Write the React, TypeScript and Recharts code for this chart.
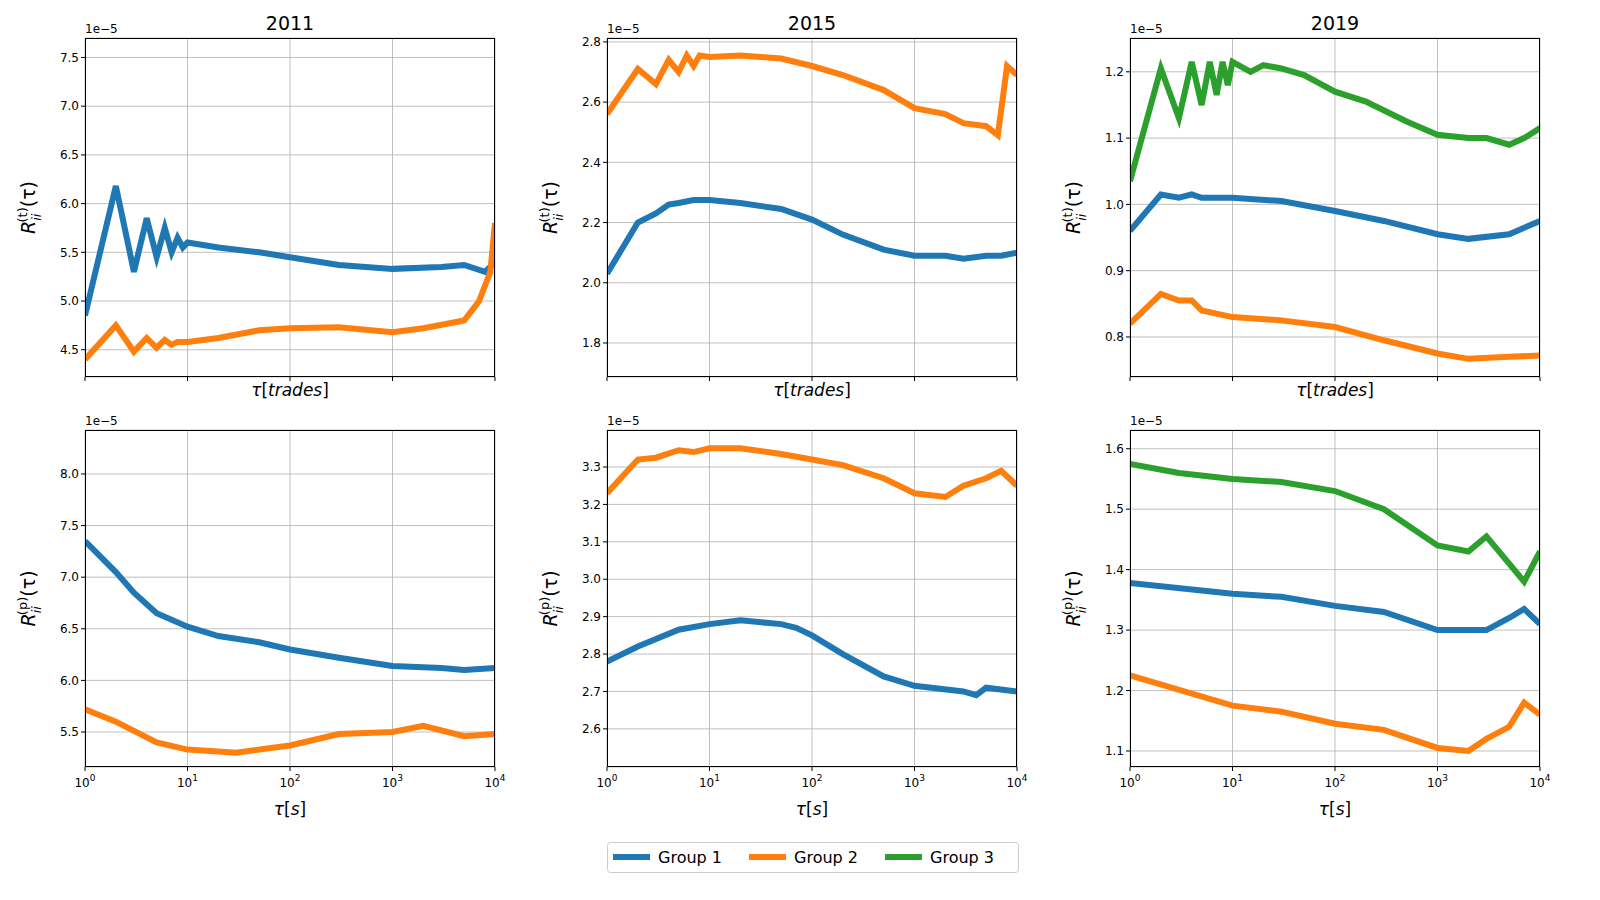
import React from 'react'
import { LineChart, Line, XAxis, YAxis, CartesianGrid } from 'recharts'

const C1 = '#1f77b4'
const C2 = '#ff7f0e'
const C3 = '#2ca02c'

const years = ['2011', '2015', '2019']
const xTicks = [1, 10, 100, 1000, 10000]

// [tau, value * 1e5]
const t2011g1 = [[1, 4.85], [2, 6.18], [3, 5.3], [4, 5.85], [5, 5.45], [6, 5.75], [7, 5.5], [8, 5.65], [9, 5.55], [10, 5.6], [20, 5.55], [50, 5.5], [100, 5.45], [300, 5.37], [1000, 5.33], [3000, 5.35], [5000, 5.37], [8000, 5.3], [10000, 5.4]]
const t2011g2 = [[1, 4.4], [2, 4.75], [3, 4.48], [4, 4.62], [5, 4.52], [6, 4.6], [7, 4.55], [8, 4.58], [10, 4.58], [20, 4.62], [50, 4.7], [100, 4.72], [300, 4.73], [1000, 4.68], [2000, 4.72], [5000, 4.8], [7000, 5.0], [9000, 5.3], [10000, 5.8]]
const t2015g1 = [[1, 2.03], [2, 2.2], [3, 2.23], [4, 2.26], [5, 2.265], [7, 2.275], [10, 2.275], [20, 2.265], [50, 2.245], [100, 2.21], [200, 2.16], [500, 2.11], [1000, 2.09], [2000, 2.09], [3000, 2.08], [5000, 2.09], [7000, 2.09], [10000, 2.1]]
const t2015g2 = [[1, 2.56], [2, 2.71], [3, 2.66], [4, 2.74], [5, 2.7], [6, 2.755], [7, 2.72], [8, 2.755], [10, 2.75], [20, 2.755], [50, 2.745], [100, 2.72], [200, 2.69], [500, 2.64], [1000, 2.58], [2000, 2.56], [3000, 2.53], [5000, 2.52], [6500, 2.49], [8000, 2.72], [10000, 2.69]]
const t2019g1 = [[1, 0.96], [2, 1.015], [3, 1.01], [4, 1.015], [5, 1.01], [10, 1.01], [30, 1.005], [100, 0.99], [300, 0.975], [1000, 0.955], [2000, 0.948], [5000, 0.955], [10000, 0.975]]
const t2019g2 = [[1, 0.82], [2, 0.865], [3, 0.855], [4, 0.855], [5, 0.84], [10, 0.83], [30, 0.825], [100, 0.815], [300, 0.795], [1000, 0.775], [2000, 0.767], [5000, 0.77], [10000, 0.772]]
const t2019g3 = [[1, 1.035], [2, 1.205], [3, 1.13], [4, 1.215], [5, 1.15], [6, 1.215], [7, 1.165], [8, 1.215], [9, 1.18], [10, 1.215], [15, 1.2], [20, 1.21], [30, 1.205], [50, 1.195], [100, 1.17], [200, 1.155], [500, 1.125], [1000, 1.105], [2000, 1.1], [3000, 1.1], [5000, 1.09], [7000, 1.1], [10000, 1.115]]

const p2011g1 = [[1, 7.35], [2, 7.05], [3, 6.85], [5, 6.65], [10, 6.52], [20, 6.43], [50, 6.37], [100, 6.3], [300, 6.22], [1000, 6.14], [3000, 6.12], [5000, 6.1], [10000, 6.12]]
const p2011g2 = [[1, 5.72], [2, 5.6], [5, 5.4], [10, 5.33], [30, 5.3], [100, 5.37], [300, 5.48], [1000, 5.5], [2000, 5.56], [5000, 5.46], [10000, 5.48]]
const p2015g1 = [[1, 2.78], [2, 2.82], [5, 2.865], [10, 2.88], [20, 2.89], [50, 2.88], [70, 2.87], [100, 2.85], [200, 2.8], [500, 2.74], [1000, 2.715], [3000, 2.7], [4000, 2.69], [5000, 2.71], [10000, 2.7]]
const p2015g2 = [[1, 3.23], [2, 3.32], [3, 3.325], [5, 3.345], [7, 3.34], [10, 3.35], [20, 3.35], [50, 3.335], [100, 3.32], [200, 3.305], [500, 3.27], [1000, 3.23], [2000, 3.22], [3000, 3.25], [5000, 3.27], [7000, 3.29], [10000, 3.25]]
const p2019g1 = [[1, 1.378], [10, 1.36], [30, 1.355], [100, 1.34], [300, 1.33], [1000, 1.3], [2000, 1.3], [3000, 1.3], [5000, 1.32], [7000, 1.335], [10000, 1.31]]
const p2019g2 = [[1, 1.225], [10, 1.175], [30, 1.165], [100, 1.145], [300, 1.135], [1000, 1.105], [2000, 1.1], [3000, 1.12], [5000, 1.14], [7000, 1.18], [10000, 1.16]]
const p2019g3 = [[1, 1.575], [3, 1.56], [10, 1.55], [30, 1.545], [100, 1.53], [300, 1.5], [1000, 1.44], [2000, 1.43], [3000, 1.455], [5000, 1.41], [7000, 1.38], [10000, 1.43]]

const toRows = (a: number[][]) => a.map(([x, y]) => ({ x, y }))
const FONT = 'DejaVu Sans, sans-serif'

interface PanelProps {
  left: number; top: number; w: number; h: number
  domain: [number, number]; ticks: number[]; digits: number
  series: { data: number[][]; color: string }[]
  showX: boolean
}

function XTick({ x, y, payload }: any) {
  const e = Math.round(Math.log10(payload.value))
  return (
    <text x={x} y={y + 14} textAnchor="middle" fontSize={12} fontFamily={FONT} fill="#000">
      10<tspan dy={-6} fontSize={9}>{e}</tspan>
    </text>
  )
}

function NoTick() {
  return <g />
}

function Panel({ left, top, w, h, domain, ticks, digits, series, showX }: PanelProps) {
  return (
    <div style={{ position: 'absolute', left: left - 60, top: top - 10 }}>
      <LineChart width={w + 80} height={h + 40} margin={{ top: 10, left: 0, right: 20, bottom: 0 }}>
        <CartesianGrid stroke="#b0b0b0" strokeWidth={0.8} />
        <XAxis type="number" dataKey="x" scale="log" domain={[1, 10000]} ticks={xTicks} allowDataOverflow
          height={30} tickSize={4} tickLine={{ stroke: '#000' }} axisLine={false}
          tick={showX ? <XTick /> : <NoTick />} />
        <YAxis type="number" domain={domain} ticks={ticks} allowDataOverflow width={60}
          tickSize={4} tickLine={{ stroke: '#000' }} axisLine={false}
          tickFormatter={(v: number) => v.toFixed(digits)}
          tick={{ fontSize: 12, fill: '#000', fontFamily: FONT }} />
        {series.map((s, i) => (
          <Line key={i} data={toRows(s.data)} dataKey="y" type="linear" stroke={s.color}
            strokeWidth={6} dot={false} isAnimationActive={false} />
        ))}
      </LineChart>
      <div style={{ position: 'absolute', left: 60, top: 10, width: w, height: h, border: '1px solid #000', boxSizing: 'border-box', pointerEvents: 'none' }} />
      <div style={{ position: 'absolute', left: 60, top: -6, fontSize: 12, fontFamily: FONT }}>1e−5</div>
    </div>
  )
}

function YLabel({ x, y, kind }: { x: number; y: number; kind: string }) {
  return (
    <text transform={`translate(${x},${y}) rotate(-90)`} textAnchor="middle" fontSize={19} fontFamily={FONT}>
      <tspan fontStyle="italic">R</tspan>
      <tspan fontSize={13} dy={6} fontStyle="italic">ii</tspan>
      <tspan fontSize={13} dy={-14} dx={-9}>({kind})</tspan>
      <tspan dy={8}>(τ)</tspan>
    </text>
  )
}

export default function App() {
  const cols = [85, 607, 1130]
  const W = 410
  const topY = 38, topH = 339
  const botY = 430, botH = 337
  const topCfg = [
    { domain: [4.22, 7.7] as [number, number], ticks: [4.5, 5, 5.5, 6, 6.5, 7, 7.5], digits: 1, series: [{ data: t2011g1, color: C1 }, { data: t2011g2, color: C2 }] },
    { domain: [1.687, 2.813] as [number, number], ticks: [1.8, 2.0, 2.2, 2.4, 2.6, 2.8], digits: 1, series: [{ data: t2015g1, color: C1 }, { data: t2015g2, color: C2 }] },
    { domain: [0.7396, 1.251] as [number, number], ticks: [0.8, 0.9, 1.0, 1.1, 1.2], digits: 1, series: [{ data: t2019g3, color: C3 }, { data: t2019g1, color: C1 }, { data: t2019g2, color: C2 }] },
  ]
  const botCfg = [
    { domain: [5.161, 8.426] as [number, number], ticks: [5.5, 6, 6.5, 7, 7.5, 8], digits: 1, series: [{ data: p2011g1, color: C1 }, { data: p2011g2, color: C2 }] },
    { domain: [2.498, 3.399] as [number, number], ticks: [2.6, 2.7, 2.8, 2.9, 3.0, 3.1, 3.2, 3.3], digits: 1, series: [{ data: p2015g1, color: C1 }, { data: p2015g2, color: C2 }] },
    { domain: [1.0735, 1.631] as [number, number], ticks: [1.1, 1.2, 1.3, 1.4, 1.5, 1.6], digits: 1, series: [{ data: p2019g3, color: C3 }, { data: p2019g1, color: C1 }, { data: p2019g2, color: C2 }] },
  ]
  return (
    <div style={{ position: 'absolute', left: 0, top: 0, width: 1600, height: 900, background: '#fff', fontFamily: FONT }}>
      {cols.map((l, i) => (
        <Panel key={'t' + i} left={l} top={topY} w={W} h={topH} showX={false} {...topCfg[i]} />
      ))}
      {cols.map((l, i) => (
        <Panel key={'b' + i} left={l} top={botY} w={W} h={botH} showX={true} {...botCfg[i]} />
      ))}
      <svg width={1600} height={900} style={{ position: 'absolute', left: 0, top: 0, pointerEvents: 'none' }}>
        {cols.map((l, i) => (
          <g key={i}>
            <text x={l + W / 2} y={30} textAnchor="middle" fontSize={19}>{years[i]}</text>
            <text x={l + W / 2} y={396} textAnchor="middle" fontSize={17}>
              <tspan fontStyle="italic">τ</tspan>[<tspan fontStyle="italic">trades</tspan>]
            </text>
            <text x={l + W / 2} y={815} textAnchor="middle" fontSize={17}>
              <tspan fontStyle="italic">τ</tspan>[<tspan fontStyle="italic">s</tspan>]
            </text>
            <YLabel x={l - 50} y={topY + topH / 2} kind="t" />
            <YLabel x={l - 50} y={botY + botH / 2} kind="p" />
          </g>
        ))}
        <rect x={607.5} y={842.5} width={411} height={30} rx={3} fill="#fff" stroke="#ccc" />
        {[['Group 1', C1], ['Group 2', C2], ['Group 3', C3]].map(([n, c], i) => (
          <g key={n}>
            <line x1={613 + i * 136} x2={650 + i * 136} y1={857} y2={857} stroke={c} strokeWidth={6} />
            <text x={658 + i * 136} y={863} fontSize={16}>{n}</text>
          </g>
        ))}
      </svg>
    </div>
  )
}
